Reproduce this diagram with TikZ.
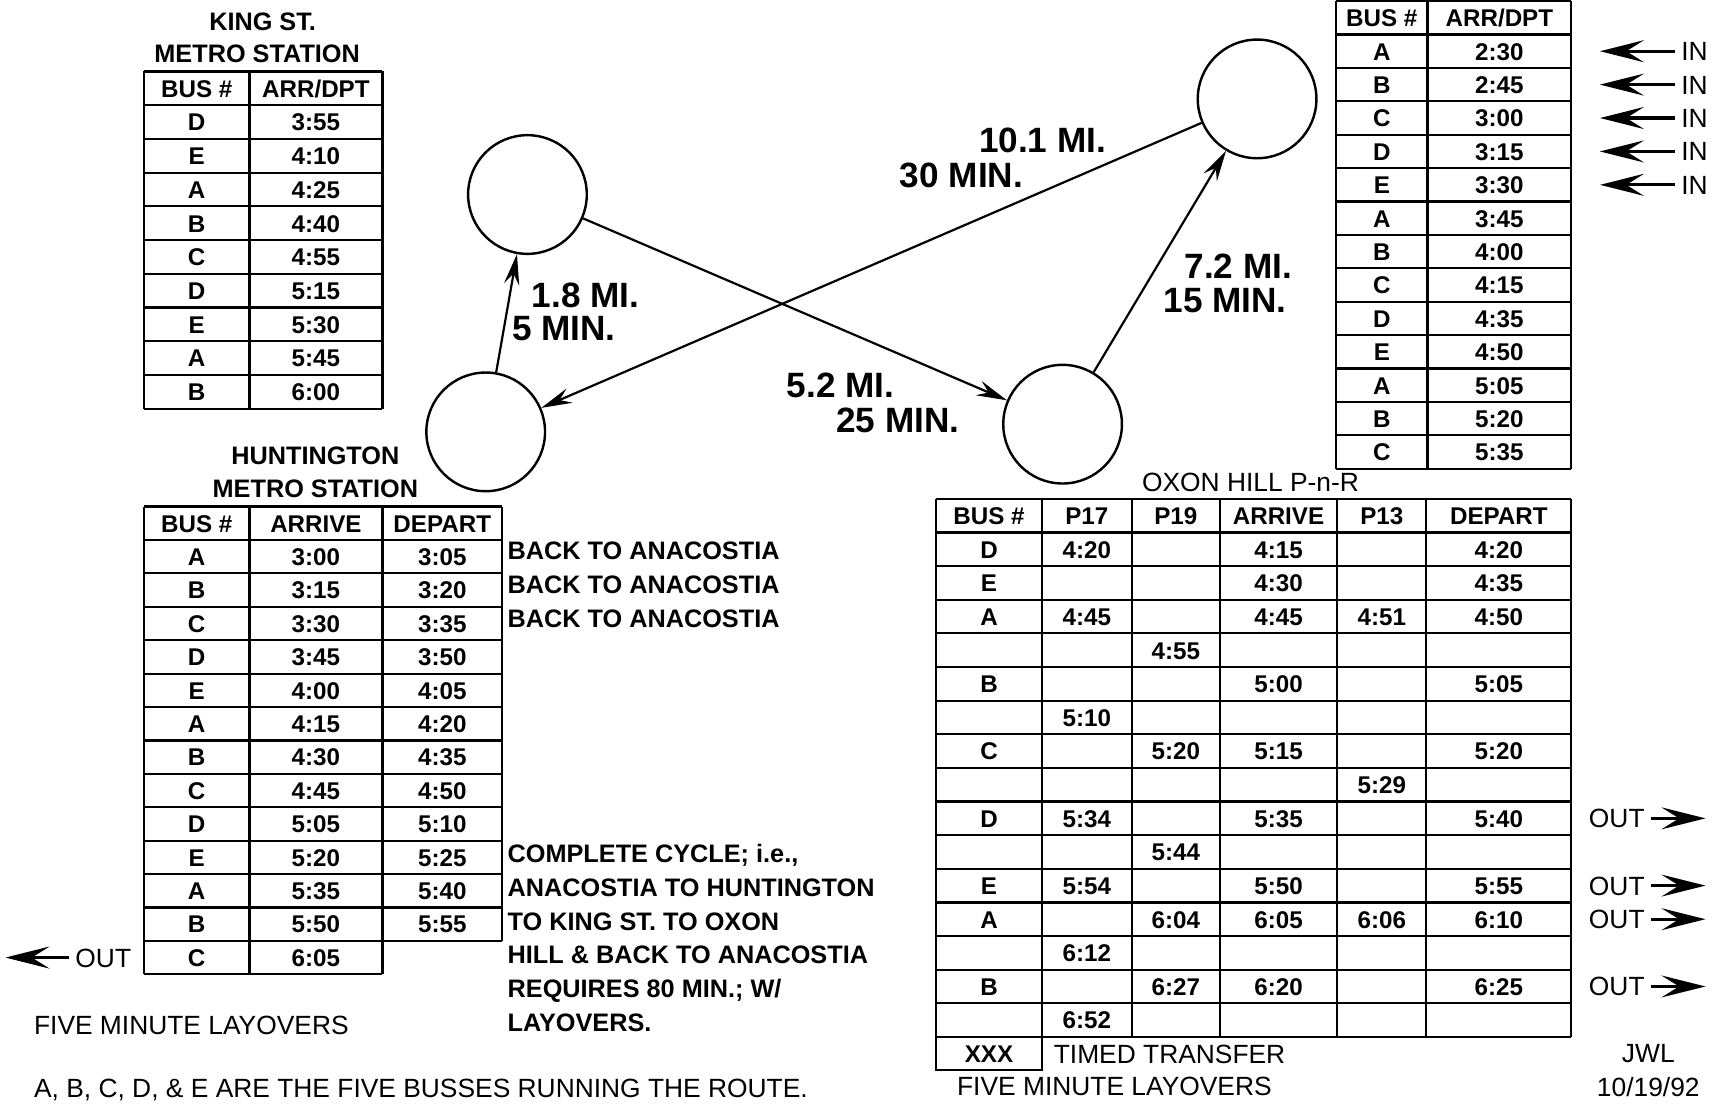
\documentclass[tikz,border=0pt]{standalone}
\usepackage{fontspec}
\setmainfont{Liberation Sans}
\usetikzlibrary{arrows.meta, positioning, shapes.geometric}

\begin{document}
\begin{tikzpicture}[x=0.5pt, y=-0.5pt, >={Stealth[length=14pt,width=7pt,inset=5pt]}, line width=1pt]
    \tikzstyle{busstop} = [circle, draw, minimum size=54pt, inner sep=0pt, line width=1.1pt]
    \tikzstyle{tcell} = [font=\bfseries\fontsize{11}{13}\selectfont, inner sep=0pt, text height=8pt, text depth=0pt]
    \tikzstyle{ttitle} = [font=\bfseries\fontsize{11.5}{13}\selectfont, inner sep=0pt, text height=8.3pt, text depth=0pt]
    \tikzstyle{distlbl} = [anchor=west, font=\bfseries\fontsize{16}{18}\selectfont, inner sep=0pt, text height=11.5pt, text depth=0pt]
    \tikzstyle{notetxt} = [anchor=west, font=\bfseries\fontsize{11.5}{13}\selectfont, inner sep=0pt, text height=8.3pt, text depth=0pt]
    \tikzstyle{foottxt} = [anchor=west, font=\fontsize{12}{14}\selectfont, inner sep=0pt, text height=8.6pt, text depth=0pt]
    \tikzstyle{inout} = [font=\fontsize{12}{14}\selectfont, inner sep=2.5pt, text height=8.6pt, text depth=0pt]
    \tikzstyle{fatarrow} = [-{Stealth[length=20pt,width=10pt,inset=8pt]}, line width=1.5pt]
    \useasboundingbox (0,0) rectangle (1568,1009);

    % stops
    \node [busstop] (kingst) at (480,177) {};
    \node [busstop] (hunt) at (442,393) {};
    \node [busstop] (oxon) at (967,386) {};
    \node [busstop] (anac) at (1144,90) {};

    \draw [->] (hunt) -- (kingst);
    \draw [->] (kingst) -- (oxon);
    \draw [->] (oxon) -- (anac);
    \draw [->] (anac) -- (hunt);

    \node [distlbl] (d1a) at (483,268) {1.8 MI.};
    \node [distlbl] (d1b) at (465,298) {5 MIN.};
    \node [distlbl] (d2a) at (715,350) {5.2 MI.};
    \node [distlbl] (d2b) at (760,382) {25 MIN.};
    \node [distlbl] (d3a) at (1077,242) {7.2 MI.};
    \node [distlbl] (d3b) at (1058,273) {15 MIN.};
    \node [distlbl] (d4a) at (890,127) {10.1 MI.};
    \node [distlbl] (d4b) at (818,159) {30 MIN.};

    % King St. table
    \node [ttitle] (kst1) at (239,19) {KING ST.};
    \node [ttitle] (kst2) at (234,49) {METRO STATION};
    \foreach \r in {0,...,10} \draw (131,65+30.7*\r) -- (348,65+30.7*\r);
    \draw (131,65) -- (131,372) (227,65) -- (227,372) (348,65) -- (348,372);
    \node [tcell] (ksh1) at (179,80.4) {BUS \#};
    \node [tcell] (ksh2) at (287.5,80.4) {ARR/DPT};
    \foreach \b/\t [count=\i] in {D/3:55, E/4:10, A/4:25, B/4:40, C/4:55, D/5:15, E/5:30, A/5:45, B/6:00} {
        \node [tcell] (ksb\i) at (179,65+30.7*\i+15.35) {\b};
        \node [tcell] (kst\i) at (287.5,65+30.7*\i+15.35) {\t};
    }

    % Huntington table
    \node [ttitle] (hut1) at (287,414) {HUNTINGTON};
    \node [ttitle] (hut2) at (287,444) {METRO STATION};
    \foreach \r in {0,...,14} \draw (131,461+30.4*\r) -- (348,461+30.4*\r);
    \foreach \r in {0,...,13} \draw (348,461+30.4*\r) -- (457,461+30.4*\r);
    \draw (131,461) -- (131,886.6) (227,461) -- (227,886.6) (348,461) -- (348,886.6) (457,461) -- (457,856.2);
    \node [tcell] (huh1) at (179,476.2) {BUS \#};
    \node [tcell] (huh2) at (287.5,476.2) {ARRIVE};
    \node [tcell] (huh3) at (402.5,476.2) {DEPART};
    \foreach \b/\a/\d [count=\i] in {A/3:00/3:05, B/3:15/3:20, C/3:30/3:35, D/3:45/3:50, E/4:00/4:05, A/4:15/4:20, B/4:30/4:35, C/4:45/4:50, D/5:05/5:10, E/5:20/5:25, A/5:35/5:40, B/5:50/5:55, C/6:05/} {
        \node [tcell] (hub\i) at (179,461+30.4*\i+15.2) {\b};
        \node [tcell] (hua\i) at (287.5,461+30.4*\i+15.2) {\a};
        \node [tcell] (hud\i) at (402.5,461+30.4*\i+15.2) {\d};
    }
    \node [inout] (huout) at (94,871.4) {OUT};
    \coordinate (huend) at (5,871.4);
    \draw [fatarrow] (huout) -- (huend);

    \foreach \i in {1,2,3}
        \node [notetxt] (back\i) at (461,470+31*\i) {BACK TO ANACOSTIA};
    \foreach \t [count=\i] in {COMPLETE CYCLE; i.e.{,}, ANACOSTIA TO HUNTINGTON, TO KING ST. TO OXON, HILL \& BACK TO ANACOSTIA, REQUIRES 80 MIN.; W/, LAYOVERS.}
        \node [notetxt] (cyc\i) at (461,746.4+30.6*\i) {\t};

    \node [foottxt] (lay1) at (30,933) {FIVE MINUTE LAYOVERS};
    \node [foottxt] (buses) at (30,990) {A, B, C, D, \& E ARE THE FIVE BUSSES RUNNING THE ROUTE.};

    % Anacostia table
    \foreach \r in {0,...,14} \draw (1216,1+30.4*\r) -- (1430,1+30.4*\r);
    \draw (1216,1) -- (1216,426.6) (1299,1) -- (1299,426.6) (1430,1) -- (1430,426.6);
    \node [tcell] (anh1) at (1257.5,16.2) {BUS \#};
    \node [tcell] (anh2) at (1364.5,16.2) {ARR/DPT};
    \foreach \b/\t [count=\i] in {A/2:30, B/2:45, C/3:00, D/3:15, E/3:30, A/3:45, B/4:00, C/4:15, D/4:35, E/4:50, A/5:05, B/5:20, C/5:35} {
        \node [tcell] (anb\i) at (1257.5,1+30.4*\i+15.2) {\b};
        \node [tcell] (ant\i) at (1364.5,1+30.4*\i+15.2) {\t};
    }
    \foreach \i in {1,...,5} {
        \node [inout, anchor=west] (in\i) at (1524,1+30.4*\i+15.2) {IN};
        \coordinate (inend\i) at (1456,1+30.4*\i+15.2);
        \draw [fatarrow] (in\i) -- (inend\i);
    }

    % Oxon Hill table
    \node [foottxt, anchor=center] (oxt) at (1138,439) {OXON HILL P-n-R};
    \foreach \r in {0,...,16} \draw (852,454+30.6*\r) -- (1430,454+30.6*\r);
    \foreach \x in {852,948,1030,1110,1217,1298,1430} \draw (\x,454) -- (\x,943.6);
    \draw (852,943.6) -- (852,974) -- (948,974) -- (948,943.6);
    \foreach \x/\h [count=\j] in {900/BUS \#, 989/P17, 1070/P19, 1163.5/ARRIVE, 1257.5/P13, 1364/DEPART}
        \node [tcell] (oxh\j) at (\x,469.3) {\h};
    \foreach \b/\p/\q/\a/\s/\d [count=\i] in {D/4:20//4:15//4:20, E///4:30//4:35, A/4:45//4:45/4:51/4:50, //4:55///, B///5:00//5:05, /5:10////, C//5:20/5:15//5:20, ////5:29/, D/5:34//5:35//5:40, //5:44///, E/5:54//5:50//5:55, A//6:04/6:05/6:06/6:10, /6:12////, B//6:27/6:20//6:25, /6:52////} {
        \node [tcell] (oxb\i) at (900,454+30.6*\i+15.3) {\b};
        \node [tcell] (oxp\i) at (989,454+30.6*\i+15.3) {\p};
        \node [tcell] (oxq\i) at (1070,454+30.6*\i+15.3) {\q};
        \node [tcell] (oxa\i) at (1163.5,454+30.6*\i+15.3) {\a};
        \node [tcell] (oxs\i) at (1257.5,454+30.6*\i+15.3) {\s};
        \node [tcell] (oxd\i) at (1364,454+30.6*\i+15.3) {\d};
    }
    \foreach \i in {9,11,12,14} {
        \node [inout, anchor=west] (out\i) at (1440,454+30.6*\i+15.3) {OUT};
        \coordinate (outend\i) at (1552,454+30.6*\i+15.3);
        \draw [fatarrow] (out\i) -- (outend\i);
    }
    \node [tcell] (xxx) at (900,958.8) {XXX};
    \node [foottxt] (timed) at (958,958.8) {TIMED TRANSFER};
    \node [foottxt] (lay2) at (870,988) {FIVE MINUTE LAYOVERS};
    \node [foottxt, anchor=center] (jwl) at (1500,958) {JWL};
    \node [foottxt, anchor=center] (date) at (1500,989) {10/19/92};
\end{tikzpicture}
\end{document}
